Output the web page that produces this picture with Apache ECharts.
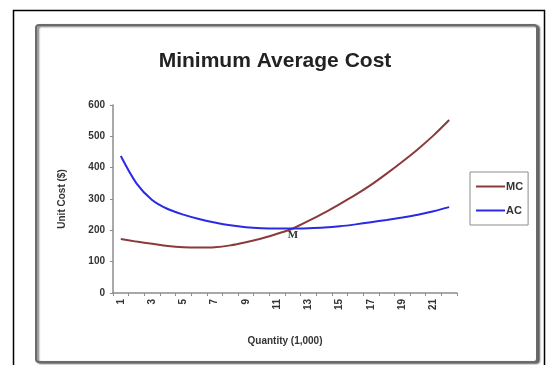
<!DOCTYPE html>
<html>
<head>
<meta charset="utf-8">
<script src="https://cdn.jsdelivr.net/npm/echarts@6/dist/echarts.min.js"></script>
<style>
  html, body { margin: 0; padding: 0; background: #fff; }
  #chart { width: 550px; height: 365px; }
</style>
</head>
<body>
<div id="chart"></div>
<script>
// Quantity in thousands of units
const quantities = ['1','2','3','4','5','6','7','8','9','10','11','12','13','14','15','16','17','18','19','20','21','22'];
// Marginal cost per unit ($)
const mcValues = [172, 164, 157, 150, 146, 145, 146, 152, 162, 174, 189, 206, 230, 256, 284, 313, 345, 381, 419, 459, 503, 552];
// Average cost per unit ($)
const acValues = [437, 350, 297, 268, 250, 236, 225, 216, 210, 207, 206, 206, 207, 209, 213, 219, 226, 233, 241, 250, 261, 274];
const yTicks = [0, 100, 200, 300, 400, 500, 600];
// Point where MC crosses AC (minimum average cost)
const minPointIndex = 11;
const minPointLabel = 'M';

const chart = echarts.init(document.getElementById('chart'), null, { renderer: 'canvas' });
const font = 'Arial, "Liberation Sans", sans-serif';
const axisGray = '#8c8c8c';

chart.setOption({
  backgroundColor: '#ffffff',
  animation: false,
  title: {
    text: 'Minimum Average Cost',
    left: 270,
    textAlign: 'center',
    top: 46,
    textStyle: { fontFamily: font, fontSize: 21, fontWeight: 'bold', color: '#222' }
  },
  graphic: [
    {
      type: 'rect', silent: true, z: -10,
      shape: { x: 13.5, y: 10.5, width: 531, height: 370 },
      style: { fill: '#fff', stroke: '#000', lineWidth: 1.5 }
    },
    {
      type: 'rect', silent: true, z: -9,
      shape: { x: 36, y: 25, width: 501, height: 337, r: 3 },
      style: {
        fill: '#fff', stroke: '#6a6a6a', lineWidth: 2,
        shadowColor: 'rgba(0,0,0,0.55)', shadowBlur: 2, shadowOffsetX: 2, shadowOffsetY: 1
      }
    }
  ],
  legend: {
    data: ['MC', 'AC'],
    orient: 'vertical',
    left: 470,
    top: 172,
    padding: [9, 5, 9, 6],
    itemGap: 13,
    itemWidth: 29,
    itemHeight: 2,
    icon: 'rect',
    borderColor: '#8c8c8c',
    borderWidth: 1,
    textStyle: { fontFamily: font, fontSize: 11, fontWeight: 'bold', color: '#333', padding: [0, 0, 0, -4] }
  },
  grid: { left: 113, right: 93, top: 105, bottom: 72, containLabel: false },
  xAxis: {
    type: 'category',
    data: quantities,
    boundaryGap: true,
    name: 'Quantity (1,000)',
    nameLocation: 'middle',
    nameGap: 43,
    nameTextStyle: { fontFamily: font, fontSize: 10, fontWeight: 'bold', color: '#333' },
    axisLine: { lineStyle: { color: axisGray, width: 1.5 } },
    axisTick: { show: true, interval: 0, length: 3, lineStyle: { color: axisGray } },
    axisLabel: {
      interval: 1, rotate: 90, margin: 6,
      fontFamily: font, fontSize: 10, fontWeight: 'bold', color: '#333'
    },
    splitLine: { show: false }
  },
  yAxis: {
    type: 'value',
    min: yTicks[0],
    max: yTicks[yTicks.length - 1],
    interval: yTicks[1] - yTicks[0],
    name: 'Unit Cost ($)',
    nameLocation: 'middle',
    nameGap: 46,
    nameRotate: 90,
    nameTextStyle: { fontFamily: font, fontSize: 10, fontWeight: 'bold', color: '#333' },
    axisLine: { show: true, lineStyle: { color: axisGray, width: 1.5 } },
    axisTick: { show: true, length: 3, lineStyle: { color: axisGray } },
    axisLabel: { margin: 8, fontFamily: font, fontSize: 10, fontWeight: 'bold', color: '#333' },
    splitLine: { show: false }
  },
  series: [
    {
      name: 'MC',
      type: 'line',
      data: mcValues,
      symbol: 'none',
      smooth: 0.3,
      color: '#8b3a3a',
      lineStyle: { color: '#8b3a3a', width: 2 }
    },
    {
      name: 'AC',
      type: 'line',
      data: acValues,
      symbol: 'none',
      smooth: 0.3,
      color: '#2a2ae6',
      lineStyle: { color: '#2a2ae6', width: 2 },
      markPoint: {
        symbol: 'circle',
        symbolSize: 1,
        itemStyle: { color: 'rgba(0,0,0,0)' },
        label: {
          show: true,
          position: 'bottom',
          distance: 1,
          formatter: minPointLabel,
          fontFamily: '"Liberation Serif", "Times New Roman", serif',
          fontSize: 11,
          fontWeight: 'bold',
          color: '#333'
        },
        data: [{ coord: [quantities[minPointIndex], acValues[minPointIndex]] }]
      }
    }
  ]
});
</script>
</body>
</html>
